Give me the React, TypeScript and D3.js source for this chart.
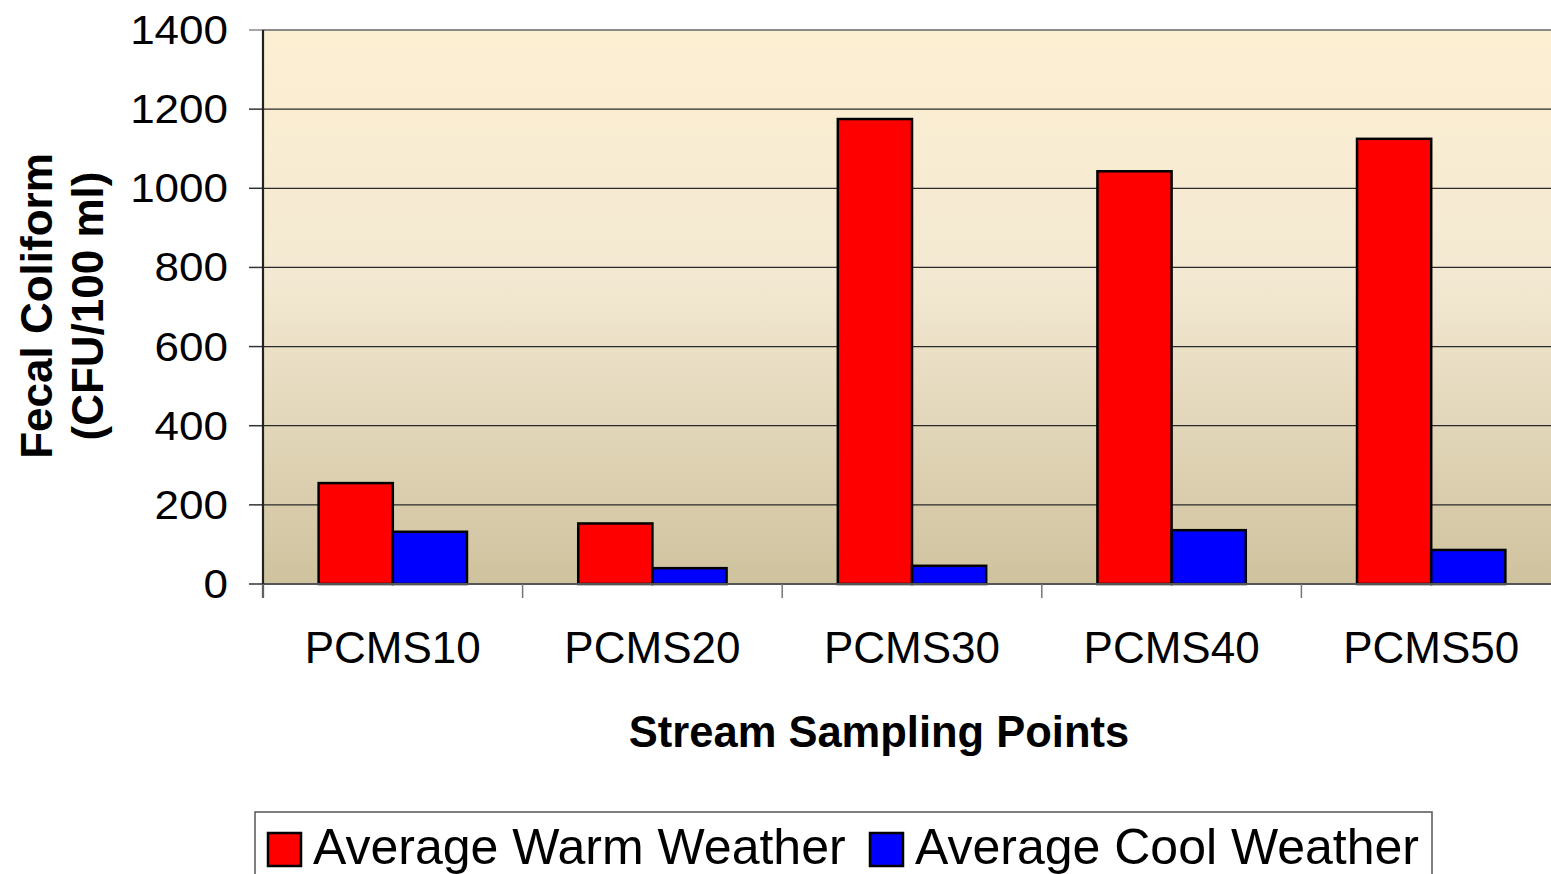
import React from "react";
import * as d3 from "d3";

const categories = ["PCMS10", "PCMS20", "PCMS30", "PCMS40", "PCMS50"];
const warmValues = [255, 153, 1175, 1043, 1125];
const coolValues = [132, 40, 46, 136, 86];
const yTicks = [0, 200, 400, 600, 800, 1000, 1200, 1400];
const seriesNames = ["Average Warm Weather", "Average Cool Weather"];
const seriesColors = ["#FF0000", "#0000FF"];

const W = 1551;
const H = 874;
const left = 263;
const catW = 259.6;
const right = left + catW * categories.length;
const top = 30;
const bottom = 584;

export default function App() {
  const x = d3.scaleBand<string>().domain(categories).range([left, right]).padding(0);
  const y = d3.scaleLinear().domain([0, 1400]).range([bottom, top]);
  const bw = x.bandwidth() / 3.5;
  const series = [warmValues, coolValues];
  const font = "Liberation Sans, Arial, sans-serif";

  return (
    <svg width={W} height={H} style={{ position: "absolute", left: 0, top: 0 }} fontFamily={font}>
      <defs>
        <linearGradient id="bg" x1="0" y1="0" x2="0" y2="1">
          <stop offset="0" stopColor="#FDEFD2" />
          <stop offset="0.45" stopColor="#F3E9D2" />
          <stop offset="1" stopColor="#CFC29E" />
        </linearGradient>
      </defs>
      <rect x={0} y={0} width={W} height={H} fill="#fff" />
      <rect x={left} y={top} width={right - left} height={bottom - top} fill="url(#bg)" />
      <line x1={left} x2={right} y1={top} y2={top} stroke="#8a8a8a" strokeWidth={2} />
      {yTicks.filter((t) => t > 0 && t < 1400).map((t) => (
        <line key={t} x1={left} x2={right} y1={y(t)} y2={y(t)} stroke="#2a2a2a" strokeWidth={1.3} />
      ))}
      {yTicks.map((t) => (
        <g key={"yt" + t}>
          <line x1={249} x2={left} y1={y(t)} y2={y(t)} stroke={t === 1400 ? "#888" : "#333"} strokeWidth={1.5} />
          <text
            transform={`translate(228,${y(t) + 14}) scale(1.1,1)`}
            textAnchor="end"
            fontSize={40}
            fill="#000"
          >
            {t}
          </text>
        </g>
      ))}
      {categories.map((c, i) => {
        const cx = (x(c) as number) + x.bandwidth() / 2;
        return series.map((vals, s) => (
          <rect
            key={c + s}
            x={cx - bw + s * bw}
            y={y(vals[i])}
            width={bw}
            height={bottom - y(vals[i])}
            fill={seriesColors[s]}
            stroke="#000"
            strokeWidth={2.5}
          />
        ));
      })}
      <line x1={left} x2={right} y1={bottom} y2={bottom} stroke="#555" strokeWidth={2} />
      <line x1={left} x2={left} y1={top} y2={598} stroke="#222" strokeWidth={2.2} />
      {categories.map((c) => (
        <line key={"xt" + c} x1={x(c) as number} x2={x(c) as number} y1={bottom} y2={598} stroke="#777" strokeWidth={1.5} />
      ))}
      {categories.map((c) => (
        <text key={"xl" + c} x={(x(c) as number) + x.bandwidth() / 2} y={663} textAnchor="middle" fontSize={44} fill="#000">
          {c}
        </text>
      ))}
      <text x={879} y={747} textAnchor="middle" fontSize={43.5} fontWeight="bold" fill="#000">
        Stream Sampling Points
      </text>
      <g transform="translate(52,306) rotate(-90)">
        <text x={0} y={0} textAnchor="middle" fontSize={44} fontWeight="bold" fill="#000">
          Fecal Coliform
        </text>
        <text x={0} y={51} textAnchor="middle" fontSize={44} fontWeight="bold" fill="#000">
          (CFU/100 ml)
        </text>
      </g>
      <rect x={255} y={812} width={1177} height={80} fill="#fff" stroke="#555" strokeWidth={1.5} />
      {seriesNames.map((n, s) => {
        const sx = s === 0 ? 268 : 870;
        return (
          <g key={n}>
            <rect x={sx} y={833} width={33} height={33} fill={seriesColors[s]} stroke="#000" strokeWidth={2.5} />
            <text x={sx + 45} y={864} fontSize={50} fill="#000">
              {n}
            </text>
          </g>
        );
      })}
    </svg>
  );
}
